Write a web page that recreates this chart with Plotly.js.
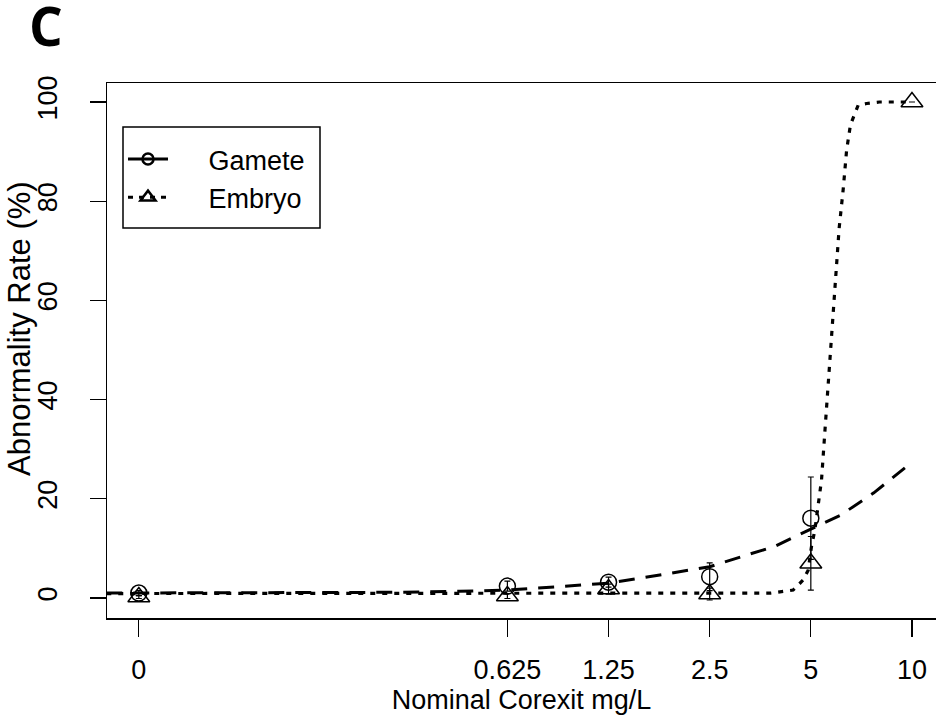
<!DOCTYPE html>
<html>
<head>
<meta charset="utf-8">
<script src="https://cdn.plot.ly/plotly-3.0.1.min.js"></script>
<style>html,body{margin:0;padding:0;background:#fff;}#chart{width:936px;height:719px;}</style>
</head>
<body>
<div id="chart"></div>
<script>
// Dose labels and their plotting positions on the log axis (control "0" is drawn at 0.05)
var doseLabels = ['0', '0.625', '1.25', '2.5', '5', '10'];
var dosePos = [0.05, 0.625, 1.25, 2.5, 5, 10];

// Observed abnormality rates (%)
var gameteDose = [0.05, 0.625, 1.25, 2.5, 5];
var gameteRate = [1.0, 2.4, 3.2, 4.3, 16.1];
var gameteErr = [0.5, 1.0, 1.0, 2.8, 8.3];

var embryoDose = [0.05, 0.625, 1.25, 2.5, 5, 10];
var embryoRate = [0.2, 0.4, 1.8, 0.8, 7.0, 100];
var embryoErr = [0.3, 0.5, 1.0, 1.2, 5.4, 0];

// Fitted curves
var gameteFitX = [0.04, 0.1, 0.2, 0.3, 0.45, 0.625, 0.9, 1.25, 1.8, 2.5, 3.2, 3.9, 5, 6.1, 7.7, 10];
var gameteFitY = [1.0, 1.0, 1.05, 1.15, 1.35, 1.6, 2.3, 3.0, 4.7, 6.3, 8.6, 10.4, 13.9, 16.6, 21.2, 27.4];

var embryoFitX = [0.04, 0.5, 1, 2, 3, 3.8, 4.43, 4.74, 4.91, 5.02, 5.14, 5.26, 5.38, 5.51, 5.64, 5.85, 6.07, 6.24, 6.39, 6.56, 6.92, 7.33, 8, 10];
var embryoFitY = [0.9, 0.9, 0.9, 0.9, 0.9, 1.0, 1.6, 3.6, 5.6, 10.3, 13.7, 18.4, 23.8, 33.9, 44, 60, 74.5, 82.3, 90.3, 95.4, 99.4, 99.7, 100, 100];

var seriesNames = ['Gamete', 'Embryo'];
var yTicks = [0, 20, 40, 60, 80, 100];
var xTitle = 'Nominal Corexit mg/L';
var yTitle = 'Abnormality Rate (%)';
var panelLabel = 'C';

var fontFam = '"Liberation Sans", Arial, sans-serif';
var pad = '\u00a0\u00a0\u00a0\u00a0\u2009';

// pixel helpers for paper coordinates (plot area: x 107..936, y 83..618)
function px(x) { return (x - 107) / 829; }
function py(y) { return (618 - y) / 535; }

var traces = [
  {x: gameteFitX, y: gameteFitY, mode: 'lines', showlegend: false, hoverinfo: 'skip',
   line: {color: '#000', width: 3, dash: '16px,11px'}},
  {x: embryoFitX, y: embryoFitY, mode: 'lines', showlegend: false, hoverinfo: 'skip',
   line: {color: '#000', width: 3.2, dash: '5px,7px'}},
  {x: gameteDose, y: gameteRate, mode: 'markers', showlegend: false,
   marker: {symbol: 'circle-open', size: 16, color: '#000', line: {width: 1.5, color: '#000'}},
   error_y: {type: 'data', array: gameteErr, visible: true, color: '#000', thickness: 1.2, width: 3}},
  {x: embryoDose, y: embryoRate, mode: 'markers', showlegend: false,
   marker: {symbol: 'triangle-up-open', size: 19, color: '#000', line: {width: 1.5, color: '#000'}},
   error_y: {type: 'data', array: embryoErr, visible: true, color: '#000', thickness: 1.2, width: 3}},
  {x: [null], y: [null], mode: 'lines+markers', name: pad + seriesNames[0],
   line: {color: '#000', width: 3, dash: 'solid'},
   marker: {symbol: 'circle-open', size: 11, color: '#000', line: {width: 2.5, color: '#000'}}},
  {x: [null], y: [null], mode: 'lines+markers', name: pad + seriesNames[1],
   line: {color: '#000', width: 3, dash: '5px,6px'},
   marker: {symbol: 'triangle-up-open', size: 13, color: '#000', line: {width: 2.5, color: '#000'}}}
];

var layout = {
  width: 936, height: 719,
  margin: {l: 107, r: 0, t: 83, b: 101, pad: 0},
  paper_bgcolor: '#fff', plot_bgcolor: '#fff',
  font: {family: fontFam, size: 27, color: '#000'},
  showlegend: true,
  legend: {x: 0.0193, y: py(135), xanchor: 'left', yanchor: 'top',
           borderwidth: 0, bgcolor: 'rgba(0,0,0,0)',
           font: {family: fontFam, size: 27, color: '#000'},
           itemwidth: 40},
  shapes: [{type: 'rect', xref: 'paper', yref: 'paper', layer: 'below',
            x0: px(123), x1: px(320), y0: py(228), y1: py(127),
            line: {color: '#000', width: 1.5}, fillcolor: '#fff'}],
  xaxis: {type: 'log', range: [Math.log10(0.0402), Math.log10(11.79)],
          tickmode: 'array', tickvals: dosePos, ticktext: doseLabels,
          ticks: 'outside', ticklen: 17, tickwidth: 1.3, tickcolor: '#000',
          ticklabelstandoff: 10,
          showline: true, linewidth: 1.5, linecolor: '#000', mirror: true,
          showgrid: false, zeroline: false,
          tickfont: {family: fontFam, size: 27, color: '#000'},
          title: {text: xTitle, standoff: 2,
                  font: {family: fontFam, size: 27, color: '#000'}}},
  yaxis: {range: [-4.03, 103.83], tickmode: 'array', tickvals: yTicks,
          ticks: 'outside', ticklen: 16, tickwidth: 1.3, tickcolor: '#000',
          tickangle: -90, ticklabelstandoff: 22,
          showline: true, linewidth: 1.5, linecolor: '#000', mirror: false,
          showgrid: false, zeroline: false,
          tickfont: {family: fontFam, size: 27, color: '#000'}},
  annotations: [
    {text: yTitle, xref: 'paper', yref: 'paper', x: px(19), y: py(329),
     xanchor: 'center', yanchor: 'middle', textangle: -90, showarrow: false,
     font: {family: fontFam, size: 31, color: '#000'}},
    {text: '<b>' + panelLabel + '</b>', xref: 'paper', yref: 'paper',
     x: px(46), y: py(25), xanchor: 'center', yanchor: 'middle',
     showarrow: false, font: {family: '"Open Sans", "Noto Sans", sans-serif', size: 53, color: '#000'}}
  ]
};

Plotly.newPlot('chart', traces, layout, {displayModeBar: false, staticPlot: true});
</script>
</body>
</html>
